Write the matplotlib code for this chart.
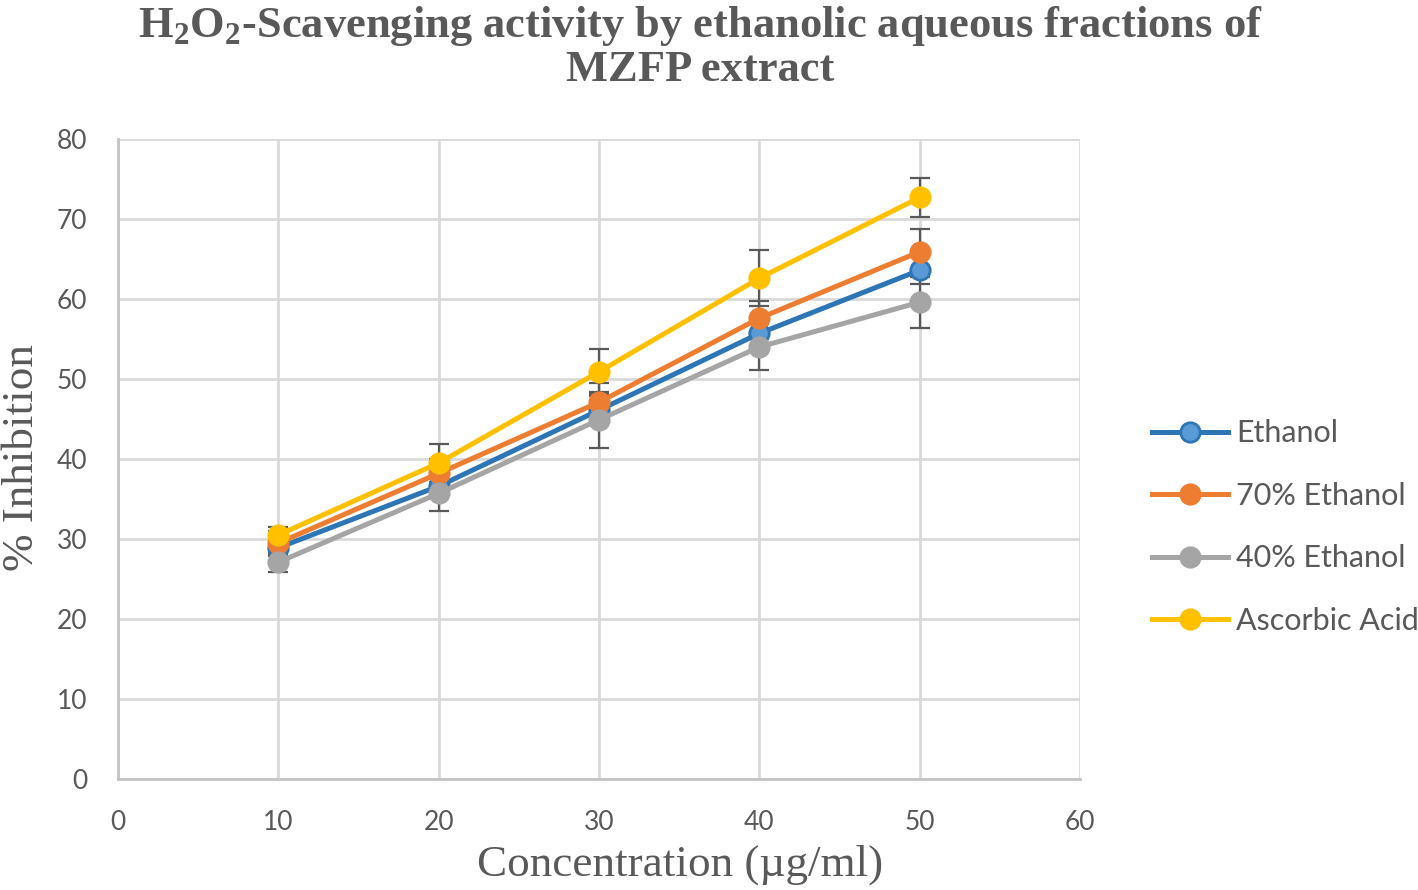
import matplotlib
matplotlib.use('Agg')
import matplotlib.pyplot as plt

plt.rcParams['mathtext.fontset'] = 'custom'
plt.rcParams['mathtext.rm'] = 'Liberation Serif'
plt.rcParams['mathtext.bf'] = 'Liberation Serif:bold'

conc = [10, 20, 30, 40, 50]

ethanol = [28.9, 36.6, 46.1, 55.7, 63.6]
eth70 = [29.5, 38.2, 47.1, 57.6, 65.9]
eth40 = [27.1, 35.7, 44.9, 54.0, 59.6]
ascorbic = [30.5, 39.5, 50.9, 62.6, 72.7]

err_ethanol = [1.0, 1.4, 1.8, 2.0, 1.7]
err_eth70 = [1.5, 1.8, 2.4, 2.1, 2.9]
err_eth40 = [1.2, 2.2, 3.5, 2.9, 3.2]
err_ascorbic = [1.0, 2.4, 2.8, 3.5, 2.4]

labels = ['Ethanol', '70% Ethanol', '40% Ethanol', 'Ascorbic Acid']
series = [ethanol, eth70, eth40, ascorbic]
errors = [err_ethanol, err_eth70, err_eth40, err_ascorbic]
line_colors = ['#2E75B6', '#ED7D31', '#A5A5A5', '#FFC000']
face_colors = ['#5B9BD5', '#ED7D31', '#A5A5A5', '#FFC000']

txt = '#595959'

fig = plt.figure(figsize=(14.18, 8.9), dpi=100)
ax = fig.add_axes([118/1418, 1-779/890, (1080-118)/1418, (779-139)/890])

for i in range(4):
    ax.errorbar(conc, series[i], yerr=errors[i], fmt='none', ecolor=txt,
                elinewidth=1.6, capsize=7, capthick=1.6, zorder=2)
    ax.plot(conc, series[i], '-o', color=line_colors[i], lw=3.6,
            markersize=14, markerfacecolor=face_colors[i],
            markeredgecolor=line_colors[i], markeredgewidth=2,
            label=labels[i], zorder=3 + i)

ax.set_xlim(0, 60)
ax.set_ylim(0, 80)
ax.set_xticks(range(0, 61, 10))
ax.set_yticks(range(0, 81, 10))
ax.grid(True, color='#D9D9D9', lw=2)
ax.set_axisbelow(True)
for s in ['top', 'right']:
    ax.spines[s].set_visible(False)
for s in ['left', 'bottom']:
    ax.spines[s].set_color('#C4C4C4')
    ax.spines[s].set_linewidth(2)
ax.tick_params(length=0, labelsize=19, labelcolor=txt, pad=22)
for t in ax.get_xticklabels() + ax.get_yticklabels():
    t.set_fontfamily('Lato')

ax.set_xlabel('Concentration (µg/ml)', fontsize=32.5, family='Liberation Serif',
              color=txt)
ax.set_ylabel('% Inhibition', fontsize=32.5, family='Liberation Serif',
              color=txt)
ax.xaxis.set_label_coords(0.584, -0.103)
ax.yaxis.set_label_coords(-0.079, 0.502)

fig.text(0.494, 1-47/890,
         'H$_\\mathbf{2}$O$_\\mathbf{2}$-Scavenging activity by ethanolic aqueous fractions of\nMZFP extract',
         ha='center', va='center', fontsize=32, fontweight='bold',
         family='Liberation Serif', color=txt, linespacing=1.05)

leg = fig.legend(loc='center left', bbox_to_anchor=(1152/1418, 1-527/890),
                 frameon=False, handlelength=2.5,
                 handletextpad=0.25, labelspacing=1.13, borderpad=0,
                 borderaxespad=0, prop={'family': 'Lato', 'size': 22})
for t in leg.get_texts():
    t.set_color(txt)

fig.savefig('out.png', dpi=100)
